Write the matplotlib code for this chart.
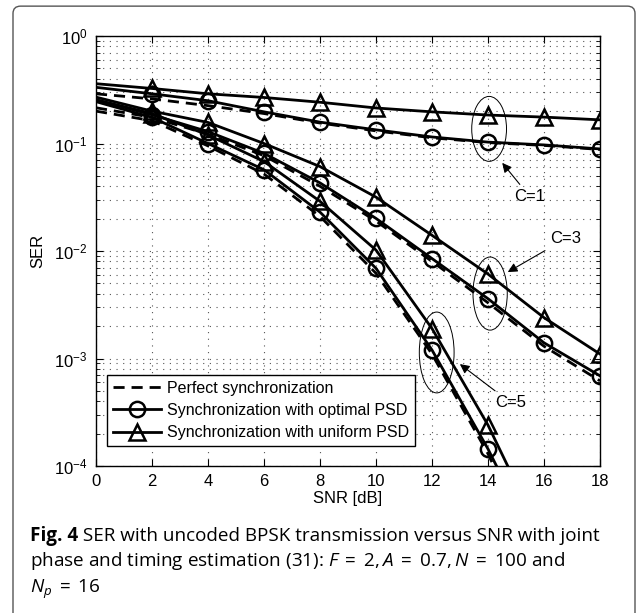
import matplotlib
matplotlib.use("Agg")
import matplotlib.pyplot as plt
from matplotlib.patches import Ellipse, FancyBboxPatch

# SER curves (SNR in dB)
snr = [0, 2, 4, 6, 8, 10, 12, 14, 16, 18]
snr_c5 = [0, 2, 4, 6, 8, 10, 12, 14, 16]

# C = 1
perf_c1 = [0.29, 0.26, 0.225, 0.19, 0.155, 0.131, 0.113, 0.102, 0.096, 0.088]
opt_c1 = [0.333, 0.29, 0.25, 0.197, 0.158, 0.134, 0.115, 0.103, 0.097, 0.089]
unif_c1 = [0.36, 0.325, 0.29, 0.268, 0.242, 0.214, 0.197, 0.184, 0.176, 0.166]

# C = 3
perf_c3 = [0.215, 0.175, 0.122, 0.077, 0.040, 0.019, 0.0080, 0.0033, 0.0013, 0.00062]
opt_c3 = [0.255, 0.185, 0.129, 0.081, 0.043, 0.0201, 0.0085, 0.0036, 0.0014, 0.00069]
unif_c3 = [0.27, 0.20, 0.157, 0.100, 0.061, 0.0317, 0.0140, 0.0061, 0.0024, 0.0011]

# C = 5
perf_c5 = [0.20, 0.163, 0.095, 0.052, 0.021, 0.0062, 0.0011, 0.00013, 1.0e-5]
opt_c5 = [0.245, 0.175, 0.100, 0.057, 0.023, 0.0069, 0.0012, 0.000144, 1.3e-5]
unif_c5 = [0.255, 0.19, 0.120, 0.068, 0.029, 0.0102, 0.0019, 0.00024, 2.0e-5]

legend_labels = ["Perfect synchronization",
                 "Synchronization with optimal PSD",
                 "Synchronization with uniform PSD"]

plt.rcParams["font.family"] = ["Liberation Sans", "DejaVu Sans"]
plt.rcParams["mathtext.fontset"] = "custom"
plt.rcParams["mathtext.rm"] = "Open Sans"
plt.rcParams["mathtext.it"] = "Open Sans:italic"

fig = plt.figure(figsize=(6.37, 6.13), dpi=100)

# rounded frame around the figure + caption
frame = FancyBboxPatch((13 / 637, -0.05), 622 / 637, 1.04, transform=fig.transFigure,
                       boxstyle="round,pad=0,rounding_size=0.012", fc="none",
                       ec="#555555", lw=1.0)
fig.patches.append(frame)

ax = fig.add_axes([96 / 637, 1 - 466 / 613, 504 / 637, 430 / 613])

lw = 2.0
ms = 11
mew = 1.8
dash = (4, 2.5)
marks = slice(1, None)  # no markers at 0 dB
curves = [(perf_c1, opt_c1, unif_c1, snr),
          (perf_c3, opt_c3, unif_c3, snr),
          (perf_c5, opt_c5, unif_c5, snr_c5)]
for perf, opt, unif, x in curves:
    ax.plot(x, perf, color="k", lw=lw, ls="--", dashes=dash)
    ax.plot(x, opt, color="k", lw=lw, marker="o", ms=ms, mfc="none", mew=mew,
            markevery=marks)
    ax.plot(x, unif, color="k", lw=lw, marker="^", ms=ms + 1, mfc="none", mew=mew,
            markevery=marks)

ax.set_yscale("log")
ax.set_xlim(0, 18)
ax.set_ylim(1e-4, 1)
ax.set_xticks(range(0, 19, 2))
ax.set_xlabel("SNR [dB]", fontsize=12, labelpad=1)
ax.set_ylabel("SER", fontsize=12, labelpad=6)
ax.tick_params(which="both", direction="in", top=True, right=True, labelsize=12)
ax.tick_params(which="major", length=5, pad=6)
ax.tick_params(which="minor", length=3)
ax.tick_params(axis="x", which="minor", bottom=False, top=False)
grid_style = dict(ls=(0, (1, 5)), lw=0.8, color="#555555")
ax.grid(True, which="major", **grid_style)
ax.grid(True, which="minor", axis="y", **grid_style)
for s in ax.spines.values():
    s.set_linewidth(1.0)

# legend handles
h_perf, = ax.plot([], [], color="k", lw=lw, ls="--", dashes=dash)
h_opt, = ax.plot([], [], color="k", lw=lw, marker="o", ms=ms, mfc="none", mew=mew)
h_unif, = ax.plot([], [], color="k", lw=lw, marker="^", ms=ms + 1, mfc="none", mew=mew)
leg = ax.legend([h_perf, h_opt, h_unif], legend_labels, loc="lower left",
                bbox_to_anchor=(0.022, 0.047), borderaxespad=0, fontsize=11.5,
                handlelength=3.0, fancybox=False, edgecolor="k", framealpha=1,
                labelspacing=0.45, borderpad=0.35, handletextpad=0.4)
leg.get_frame().set_linewidth(1.0)

# ellipses grouping the curves of each C
for cx, cy, w, h in [(0.780, 0.784, 0.069, 0.151),
                     (0.782, 0.401, 0.068, 0.170),
                     (0.676, 0.264, 0.069, 0.188)]:
    ax.add_patch(Ellipse((cx, cy), w, h, transform=ax.transAxes, fc="none",
                         ec="k", lw=0.7, zorder=5))

arrow = dict(arrowstyle="-|>", lw=0.8, color="k", mutation_scale=14, shrinkA=2, shrinkB=0)
ax.annotate("C=1", xy=(0.806, 0.705), xytext=(0.861, 0.626), xycoords="axes fraction",
            textcoords="axes fraction", ha="center", va="center", fontsize=12, arrowprops=arrow)
ax.annotate("C=3", xy=(0.817, 0.451), xytext=(0.931, 0.528), xycoords="axes fraction",
            textcoords="axes fraction", ha="center", va="center", fontsize=12, arrowprops=arrow)
ax.annotate("C=5", xy=(0.722, 0.237), xytext=(0.823, 0.147), xycoords="axes fraction",
            textcoords="axes fraction", ha="center", va="center", fontsize=12, arrowprops=arrow)

# caption
cap_font = ["Open Sans", "DejaVu Sans"]
cap_size = 13.6
x0 = 30 / 637
t = fig.text(x0, 1 - 541 / 613, "Fig. 4", family=cap_font, weight="bold", fontsize=cap_size)
r = fig.canvas.get_renderer()
bb = t.get_window_extent(r).transformed(fig.transFigure.inverted())
fig.text(bb.x1, 1 - 541 / 613, " SER with uncoded BPSK transmission versus SNR with joint",
         family=cap_font, fontsize=cap_size)
fig.text(x0, 1 - 566 / 613,
         r"phase and timing estimation (31): $F\;=\;2, A\;=\;0.7, N\;=\;100$ and",
         family=cap_font, fontsize=cap_size)
fig.text(x0, 1 - 593 / 613, r"$N_p\;=\;16$", family=cap_font, fontsize=cap_size)

fig.savefig("out.png", dpi=100)
